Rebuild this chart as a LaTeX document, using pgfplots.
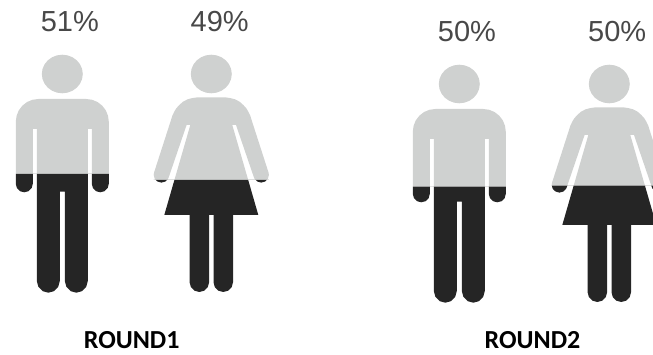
\documentclass[border=0pt]{standalone}
\usepackage{fontspec}
\setmainfont{Liberation Sans}
\newfontfamily\labelfont{Carlito}
\usepackage{pgfplots}
\usepackage{pgfplotstable}
\pgfplotsset{compat=1.18}

\definecolor{upper}{HTML}{CFD1D0}
\definecolor{lower}{HTML}{252525}
\definecolor{pct}{HTML}{484848}

% Head outline, centred on the origin
\pgfplotstableread{
x y
20.5 0
19.8 5.0
17.75 9.65
14.5 13.65
10.25 16.7
5.3 18.64
0 19.3
-5.3 18.64
-10.25 16.7
-14.5 13.65
-17.75 9.65
-19.8 5.0
-20.5 0
-19.8 -5.0
-17.75 -9.65
-14.5 -13.65
-10.25 -16.7
-5.3 -18.64
0 -19.3
5.3 -18.64
10.25 -16.7
14.5 -13.65
17.75 -9.65
19.8 -5.0
}\headshape

% Man: origin at the middle of the shoulder line
\pgfplotstableread{
x y
-24 0
24 0
29.8 .77
35.25 3.04
39.9 6.65
43.5 11.35
45.7 16.8
46.5 22.7
46.5 84.8
45.4 89.05
42.25 92.2
38 93.3
33.75 92.2
30.6 89.05
29.5 84.8
29.5 30
25.5 30
25.5 182
23.9 187.9
19.6 192.2
14 193.7
8.4 192.2
4.1 187.9
2.5 182
2.5 92.7
-2.5 92.7
-2.5 182
-4.1 187.9
-8.4 192.2
-14 193.7
-19.6 192.2
-23.9 187.9
-25.5 182
-25.5 30
-29.5 30
-29.5 84.8
-30.6 89.05
-33.75 92.2
-38 93.3
-42.25 92.2
-45.4 89.05
-46.5 84.8
-46.5 22.7
-45.7 16.8
-43.5 11.35
-39.9 6.65
-35.25 3.04
-29.8 .77
}\manshape

% Woman: origin at the middle of the shoulder line
\pgfplotstableread{
x y
-13.7 0
13.7 0
19 .8
23.7 2
28.3 4.4
32 7.7
35 11
37 14.3
39 18.5
40.3 22.7
57.2 75.1
57.6 77.6
57.4 78.4
56.6 81.45
55.33 82.7
53.75 84.25
49.9 85.3
46.05 84.25
44.47 82.7
43.2 81.45
42.6 80.06
42.03 78.4
24.7 27.7
21 27.7
35.65 78.4
36.9 82.7
47 117.7
21.7 117.7
21.7 185
20.4 189.8
16.8 193.4
11.95 194.7
7.1 193.4
3.5 189.8
2.2 185
2.2 117.7
-2.2 117.7
-2.2 185
-3.5 189.8
-7.1 193.4
-11.95 194.7
-16.8 193.4
-20.4 189.8
-21.7 185
-21.7 117.7
-47 117.7
-36.9 82.7
-35.65 78.4
-21 27.7
-24.7 27.7
-42.03 78.4
-42.6 80.06
-43.2 81.45
-44.47 82.7
-46.05 84.25
-49.9 85.3
-53.75 84.25
-55.33 82.7
-56.6 81.45
-57.4 78.4
-57.6 77.6
-57.2 75.1
-40.3 22.7
-39 18.5
-37 14.3
-35 11
-32 7.7
-28.3 4.4
-23.7 2
-19 .8
}\womanshape

% #1 body table, #2 centre x, #3 shoulder y, #4 head offset, #5 split height
\newcommand{\person}[5]{%
  \addplot[fill=upper,draw=none] table[x expr={#2+\thisrow{x}},y expr={#3+#4+\thisrow{y}}] {\headshape} --cycle;
  \addplot[fill=upper,draw=none] table[x expr={#2+\thisrow{x}},y expr={min(#3+\thisrow{y},#5)}] {#1} --cycle;
  \addplot[fill=lower,draw=none] table[x expr={#2+\thisrow{x}},y expr={max(#3+\thisrow{y},#5)}] {#1} --cycle;
}

\begin{document}
\begin{tikzpicture}
\begin{axis}[
  scale only axis,
  width=653pt,height=355pt,
  xmin=0,xmax=653,ymin=0,ymax=355,
  y dir=reverse,
  hide axis,
  clip=true,
]
% keeps the page as large as the whole plotting area
\path (axis cs:0,0) rectangle (axis cs:653,355);

\person{\manshape}{62.3}{99}{-25}{174}
\person{\womanshape}{211.3}{97.3}{-23.3}{180}
\person{\manshape}{459.3}{109}{-25}{186.7}
\person{\womanshape}{609.3}{107.3}{-23.3}{185.7}

\node[font=\fontsize{29}{29}\selectfont,text=pct] at (axis cs:69.8,22) {51\%};
\node[font=\fontsize{29}{29}\selectfont,text=pct] at (axis cs:219.7,22) {49\%};
\node[font=\fontsize{29}{29}\selectfont,text=pct] at (axis cs:467,32) {50\%};
\node[font=\fontsize{29}{29}\selectfont,text=pct] at (axis cs:617.2,32) {50\%};
\node[font=\labelfont\bfseries\fontsize{26}{26}\selectfont,text=black] at (axis cs:131.7,340.5) {ROUND1};
\node[font=\labelfont\bfseries\fontsize{26}{26}\selectfont,text=black] at (axis cs:532.5,340.5) {ROUND2};
\end{axis}
\end{tikzpicture}
\end{document}
